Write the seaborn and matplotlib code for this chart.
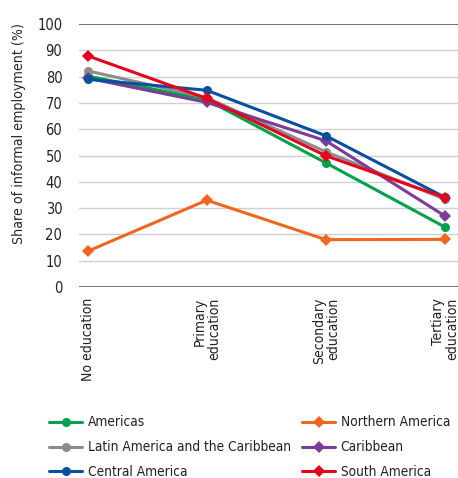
import pandas as pd
import matplotlib
matplotlib.use("Agg")
import matplotlib.pyplot as plt
import seaborn as sns

levels = ["No education", "Primary\neducation", "Secondary\neducation", "Tertiary\neducation"]

americas = [80.2, 71.2, 47.2, 22.8]
northern_america = [13.6, 33.0, 18.0, 18.1]
latin_america = [82.2, 72.0, 51.4, 33.4]
caribbean = [79.4, 70.2, 55.6, 27.0]
central_america = [79.0, 74.8, 57.5, 34.1]
south_america = [87.9, 71.7, 49.9, 34.0]

regions = ["Americas", "Northern America", "Latin America and the Caribbean",
           "Caribbean", "Central America", "South America"]
series = [americas, northern_america, latin_america, caribbean, central_america, south_america]
colors = ["#00a14b", "#f0661e", "#8c8c8c", "#7d3c98", "#0a4f9e", "#e3051b"]
markers = ["o", "D", "o", "D", "o", "D"]

rows = []
for reg, vals in zip(regions, series):
    for i, v in enumerate(vals):
        rows.append({"region": reg, "pos": i, "value": v})
df = pd.DataFrame(rows)

sns.set_style("white")
plt.rcParams["font.family"] = ["DejaVu Sans"]
plt.rcParams["font.stretch"] = "condensed"
plt.rcParams["text.color"] = "#222222"

fig = plt.figure(figsize=(4.58, 4.78), dpi=100)
ax = fig.add_axes([79 / 458, 1 - 287 / 478, 1 - 79 / 458, 263 / 478])

sns.lineplot(data=df, x="pos", y="value", hue="region", style="region",
             hue_order=regions, style_order=regions,
             palette=colors, markers=markers, dashes=False,
             linewidth=2.2, markersize=6.5, markeredgewidth=0,
             ax=ax, clip_on=False, zorder=3)

for y in range(0, 101, 10):
    c = "#707070" if y in (0, 100) else "#cfcfcf"
    lw = 1.4 if y in (0, 100) else 1.0
    ax.axhline(y, color=c, lw=lw, zorder=1)

ax.set_xlim(-0.073, 3.11)
ax.set_ylim(0, 100)
ax.set_yticks(range(0, 101, 10))
ax.set_xticks(range(4))
ax.set_xticklabels(levels, rotation=90, va="top", ha="center",
                   multialignment="right", fontsize=10, linespacing=1.0)
ax.tick_params(axis="y", length=0, pad=12, labelsize=10.5, labelcolor="#222222")
ax.tick_params(axis="x", length=0, pad=8, labelcolor="#222222")
for s in ax.spines.values():
    s.set_visible(False)
ax.set_xlabel("")
ax.set_ylabel("Share of informal employment (%)", fontsize=10.2)
ax.yaxis.set_label_coords(-0.14, 0.585)

handles, labels = ax.get_legend_handles_labels()
ax.get_legend().remove()
left = [0, 2, 4]
right = [1, 3, 5]
for idx, x0 in ((left, 44 / 458), (right, 297 / 458)):
    fig.legend([handles[i] for i in idx], [labels[i] for i in idx],
               loc="upper left", bbox_to_anchor=(x0, 1 - 410 / 478),
               frameon=False, fontsize=9.8, handlelength=2.4,
               labelspacing=0.8, handletextpad=0.4, borderaxespad=0)

fig.savefig("out.png", dpi=100)
